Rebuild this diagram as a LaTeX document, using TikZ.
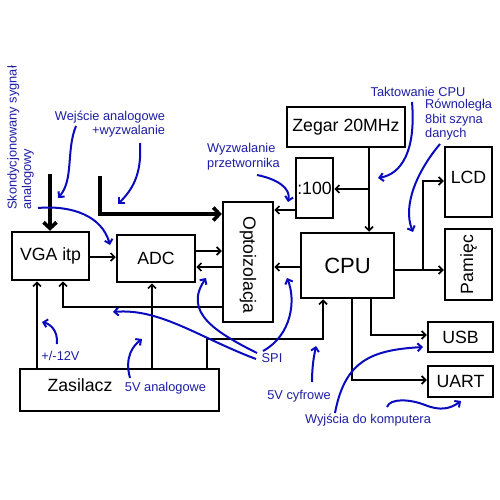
\documentclass[tikz,border=0pt]{standalone}
\usepackage{fontspec}
\setmainfont{Liberation Sans}
\usetikzlibrary{arrows.meta,calc}
\definecolor{annot}{RGB}{30,30,165}
\definecolor{annotline}{RGB}{10,10,190}
\begin{document}
\begin{tikzpicture}[x=1pt,y=-1pt,
  blk/.style={draw, line width=2.5pt, inner sep=0pt, font=\fontsize{17.7}{20}\selectfont},
  arr/.style={line width=1.6pt, -{Straight Barb[length=4pt,width=8pt]}},
  thickarr/.style={line width=3.6pt, -{Straight Barb[length=6pt,width=13pt]}},
  ln/.style={line width=1.6pt},
  note/.style={text=annot, font=\fontsize{12.8}{14.5}\selectfont, inner sep=0pt},
  ann/.style={draw=annotline, line width=2pt, -{Straight Barb[length=4pt,width=8pt]}}
]
\useasboundingbox[fill=white] (0,0) rectangle (500,500);

% blocks
\node[blk, minimum width=77pt, minimum height=48pt] (VGA) at (50.5,256) {VGA itp};
\node[blk, minimum width=78pt, minimum height=47pt] (ADC) at (156,258.5) {ADC};
\node[blk, minimum width=50pt, minimum height=120pt] (Opto) at (248,262) {};
\node[font=\fontsize{17.7}{20}\selectfont, rotate=-90, inner sep=0pt] (optotxt) at (248,265) {Optoizolacja};
\node[blk, minimum width=118pt, minimum height=40pt] (Zeg) at (346,127) {Zegar 20MHz};
\node[blk, minimum width=37pt, minimum height=60pt] (div) at (314.5,188) {:100};
\node[blk, minimum width=93pt, minimum height=65pt, font=\fontsize{22}{24}\selectfont] (CPU) at (347.5,265.5) {CPU};
\node[blk, minimum width=47pt, minimum height=70pt] (LCD) at (468.5,182) {};
\node[font=\fontsize{17.7}{20}\selectfont, inner sep=0pt] (lcdtxt) at (468.5,177) {LCD};
\node[blk, minimum width=47pt, minimum height=71pt] (Pam) at (468.5,264.5) {};
\node[font=\fontsize{17.7}{20}\selectfont, rotate=90, inner sep=0pt] (pamtxt) at (468.5,264.5) {Pamięc};
\node[blk, minimum width=65pt, minimum height=30pt] (USB) at (460.5,337) {USB};
\node[blk, minimum width=65pt, minimum height=31pt] (UART) at (460.5,381.5) {UART};
\node[blk, minimum width=199pt, minimum height=42pt] (Zas) at (119.5,390) {};
\node[font=\fontsize{17.7}{20}\selectfont, inner sep=0pt] (zastxt) at (80,385) {Zasilacz};

% thick inputs
\coordinate (in1) at (50,174);
\coordinate (in2) at (100,176);
\draw[thickarr] (in1) -- (in1 |- VGA.north);
\draw[thickarr] (in2) |- (Opto.west |- 0,214);

% black connectors
\draw[arr] (VGA.east |- 0,257) -- (ADC.west |- 0,257);
\draw[arr] (ADC.east |- 0,251) -- (Opto.west |- 0,251);
\draw[arr] (Opto.west |- 0,267) -- (ADC.east |- 0,267);
\draw[arr] (Opto.west |- 0,307) -| (63,0 |- VGA.south);
\draw[arr] (Zas.north -| 37,0) -- (37,0 |- VGA.south);
\draw[arr] (Zas.north -| 152,0) -- (152,0 |- ADC.south);
\draw[arr] (Zas.north -| 207,0) -- (207,339) -| (323,0 |- CPU.south);
\draw[arr] (CPU.west |- 0,267) -- (Opto.east |- 0,267);
\draw[arr] (div.west |- 0,210) -- (Opto.east |- 0,210);
\draw[arr] (Zeg.south -| 369,0) -- (369,0 |- CPU.north);
\draw[arr] (369,189) -- (div.east |- 0,189);
\draw[arr] (CPU.east |- 0,270) -- (Pam.west |- 0,270);
\draw[arr] (423,270) |- (LCD.west |- 0,181);
\draw[arr] (CPU.south -| 371,0) |- (USB.west |- 0,335);
\draw[arr] (CPU.south -| 352,0) |- (UART.west |- 0,380);

% annotation texts
\node[note, rotate=90, align=left, anchor=west] (skond) at (20.5,210) {Skondycjonowany sygnał\\analogowy};
\node[note, align=right] (wej) at (110,124) {Wejście analogowe\\+wyzwalanie};
\node[note, align=left, anchor=west] (wyzw) at (207,156.5) {Wyzwalanie\\przetwornika};
\node[note] (takt) at (418,92) {Taktowanie CPU};
\node[note, align=left, anchor=west] (rown) at (425,120) {Równoległa\\8bit szyna\\danych};
\node[note] (v12) at (60.5,356) {+/-12V};
\node[note] (v5a) at (165.5,388) {5V analogowe};
\node[note] (spi) at (272,358) {SPI};
\node[note] (v5c) at (299,396) {5V cyfrowe};
\node[note] (wyj) at (368,420) {Wyjścia do komputera};

% annotation arrows
\coordinate (a1s) at (38,208);  \coordinate (a1e) at (110,245);
\draw[ann] (a1s) .. controls (72,205) and (102,216) .. (a1e);
\coordinate (a2s) at (76,126);  \coordinate (a2e) at (58,198);
\draw[ann] (a2s) .. controls (66,150) and (74,180) .. (a2e);
\coordinate (a3s) at (140,143); \coordinate (a3e) at (118,204);
\draw[ann] (a3s) .. controls (142,175) and (132,190) .. (a3e);
\coordinate (a4s) at (257,175); \coordinate (a4e) at (288,202);
\draw[ann] (a4s) .. controls (277,179) and (291,188) .. (a4e);
\coordinate (a5s) at (412,102); \coordinate (a5e) at (378,178);
\draw[ann] (a5s) .. controls (416,150) and (402,174) .. (a5e);
\coordinate (a6s) at (440,144); \coordinate (a6e) at (413,232);
\draw[ann] (a6s) .. controls (418,170) and (402,205) .. (a6e);
\coordinate (a7s) at (57,344);  \coordinate (a7e) at (42,322);
\draw[ann] (a7s) .. controls (58,330) and (50,324) .. (a7e);
\coordinate (a8s) at (130,378); \coordinate (a8e) at (142,339);
\draw[ann] (a8s) .. controls (124,356) and (134,345) .. (a8e);
\coordinate (a9s) at (256,359); \coordinate (a9e) at (113,312);
\draw[ann] (a9s) .. controls (200,338) and (160,308) .. (a9e);
\coordinate (a10s) at (257,353); \coordinate (a10e) at (206,278);
\draw[ann] (a10s) .. controls (215,332) and (183,312) .. (a10e);
\coordinate (a11s) at (263,351); \coordinate (a11e) at (287,278);
\draw[ann] (a11s) .. controls (292,335) and (296,300) .. (a11e);
\coordinate (a12s) at (312,382); \coordinate (a12e) at (316,346);
\draw[ann] (a12s) .. controls (312,366) and (314,356) .. (a12e);
\coordinate (a13s) at (335,413); \coordinate (a13e) at (423,347);
\draw[ann] (a13s) .. controls (345,360) and (372,350) .. (a13e);
\coordinate (a14s) at (387,407); \coordinate (a14m) at (425,405); \coordinate (a14e) at (461,401);
\draw[ann] (a14s) .. controls (390,398) and (410,399) .. (a14m) .. controls (440,411) and (450,409) .. (a14e);
\end{tikzpicture}
\end{document}
